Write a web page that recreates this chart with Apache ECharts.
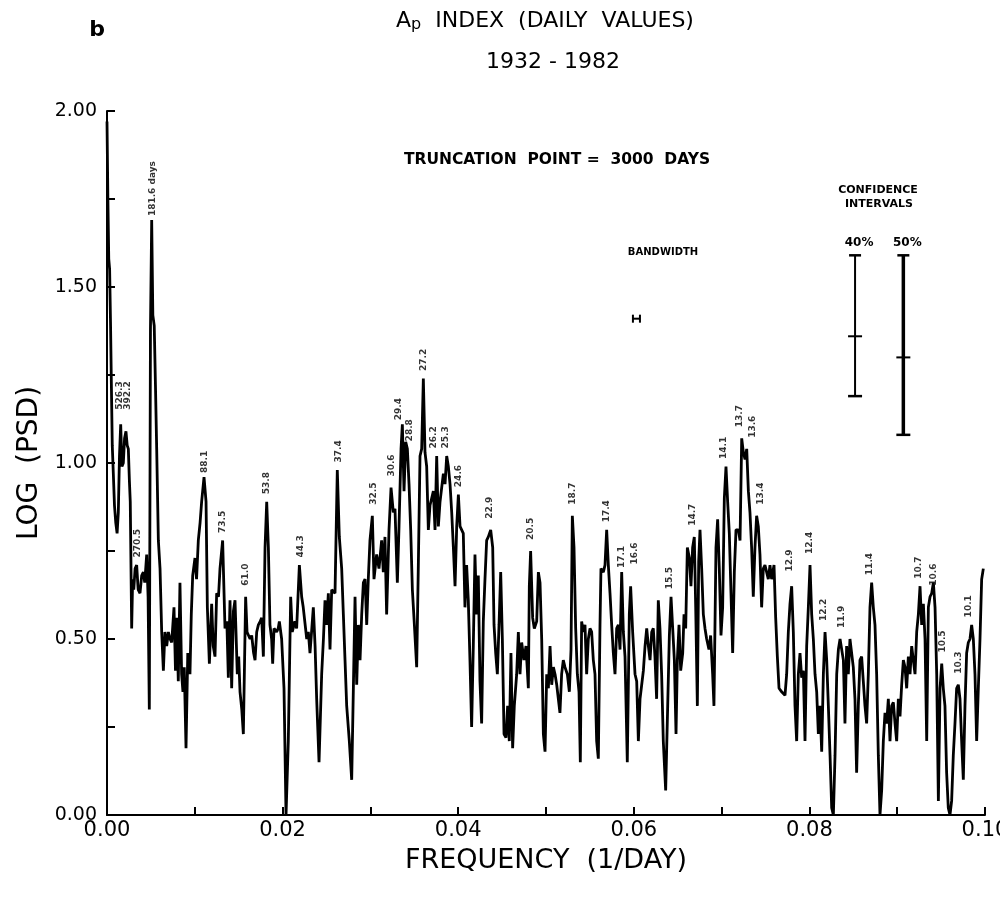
<!DOCTYPE html>
<html><head><meta charset="utf-8">
<script src="https://cdn.jsdelivr.net/npm/echarts@6.0.0/dist/echarts.min.js"></script>
<style>html,body{margin:0;padding:0;background:#fff}#c{width:1000px;height:903px}</style>
</head><body><div id="c"></div><script>
// ---- DATA ----
const freq = [
0,0.0001,0.0002,0.0003,0.0004,0.0005,0.0006,0.00072,0.00085,0.001,
0.00115,0.00129,0.00142,0.00156,0.0017,0.00186,0.002,0.00216,0.0023,0.00243,
0.00255,0.00265,0.00281,0.00292,0.00305,0.0032,0.00338,0.00355,0.00376,0.00395,
0.00414,0.0043,0.00452,0.00468,0.00482,0.00495,0.00509,0.00522,0.00538,0.00552,
0.00566,0.00585,0.00604,0.00623,0.00642,0.0066,0.0068,0.00699,0.00718,0.00737,
0.00763,0.0078,0.00795,0.00812,0.00831,0.0085,0.00865,0.0088,0.009,0.0092,
0.00945,0.0096,0.00976,0.01002,0.0102,0.0104,0.0106,0.01078,0.01105,0.01128,
0.01143,0.01166,0.01192,0.0121,0.0123,0.01249,0.0127,0.01287,0.01317,0.01344,
0.01365,0.01382,0.01401,0.0142,0.0144,0.01458,0.01484,0.015,0.01515,0.01535,
0.01553,0.01579,0.01595,0.0161,0.0163,0.01648,0.0167,0.01686,0.01705,0.01724,
0.01745,0.01762,0.01781,0.018,0.01819,0.01838,0.01856,0.01875,0.01887,0.01902,
0.01932,0.0195,0.01963,0.01989,0.02016,0.02039,0.02065,0.02092,0.0211,0.0214,
0.0216,0.02191,0.02217,0.02235,0.02255,0.02275,0.02293,0.02312,0.0233,0.0235,
0.0237,0.02388,0.02415,0.02445,0.02465,0.02483,
0.02502,0.02521,0.0254,0.02559,0.02597,0.02623,0.02646,0.02673,0.02692,0.02711,
0.0273,0.0276,0.02787,0.02806,0.02825,0.02844,0.02863,0.02882,0.02901,0.0292,
0.02939,0.02958,0.02976,0.02995,0.03022,0.03041,0.03071,0.03098,0.03128,0.03147,
0.03166,0.03185,0.03212,0.03235,0.03261,0.0328,0.03307,0.03326,0.03349,0.03364,
0.03383,0.03402,0.03421,0.0344,0.03459,0.03478,0.03501,0.03527,0.03546,0.03565,
0.03584,0.03603,0.03622,0.03641,0.0366,0.03679,0.03698,0.03717,0.03736,0.03755,
0.03774,0.03793,0.03812,0.03831,0.0385,0.03869,0.03888,0.03907,0.03926,0.03945,
0.03964,0.03983,0.04002,0.04021,0.04039,0.04058,0.04077,0.04096,0.04115,0.04134,
0.04153,0.04172,0.04191,0.0421,0.04229,0.04248,0.04267,0.04286,0.04305,0.04324,
0.04343,0.0437,0.04393,0.04408,0.04427,0.04446,0.04465,0.04484,0.04503,0.04522,
0.04544,0.04563,0.04582,0.04601,0.0462,0.04639,0.04666,0.04685,0.04704,0.04723,
0.04749,0.04772,0.04799,0.0481,0.04825,0.04848,0.04867,0.04894,0.04913,0.04932,
0.04951,0.0497,0.04989,0.05008,0.05027,0.05046,0.05065,0.05084,0.05103,0.05122,
0.05141,0.05159,0.05178,0.05197,0.05216,0.05243,0.05266,0.05285,0.053,0.05319,
0.05338,0.05357,0.05376,0.05391,0.05406,0.05425,0.05444,0.05463,0.05482,0.05501,
0.0552,0.05539,0.05558,0.05577,0.05596,0.05615,0.05626,0.05653,0.05672,0.05691,
0.0571,0.05729,0.05748,0.05767,0.05786,0.05805,0.05824,0.05843,0.05862,0.05881,
0.059,0.05926,0.05949,0.05964,0.05987,0.06014,0.06033,0.06052,0.06071,0.0609,
0.06109,0.06128,0.06147,0.06166,0.06185,0.06204,0.06222,0.06241,0.0626,0.06279,
0.06298,0.06317,0.06336,0.06363,0.06386,0.06405,0.06424,0.06443,0.06462,0.06481,
0.06496,0.06515,0.06534,0.06557,0.06572,0.06591,0.0661,0.06633,0.06651,0.0667,
0.06689,0.06705,0.06724,0.06739,0.06754,0.06773,0.06792,0.06811,0.0683,0.06856,
0.06875,0.06898,0.06913,0.06936,0.06955,0.06974,0.06993,0.07012,0.07031,0.0705,
0.07069,0.07088,0.07107,0.07126,0.07145,0.07164,0.07191,0.0721,0.07229,0.07248,
0.07267,0.07286,0.07305,0.07323,0.07342,0.07361,0.0738,0.07399,0.07418,0.07437,
0.07456,0.07475,0.07494,0.07532,0.07551,0.0757,0.07597,0.07616,0.07635,0.07654,
0.07684,0.07722,0.07741,0.0776,0.07779,0.07798,0.07817,0.07836,0.07855,0.07874,
0.07893,0.07912,0.07931,0.0795,0.07969,0.07988,0.08007,0.08026,0.08045,0.08064,
0.08083,0.08102,0.08121,0.0814,0.08159,0.08178,0.08197,0.08216,0.08235,0.08254,
0.08273,0.08292,0.08311,0.0833,0.08349,0.08368,0.08387,0.08405,0.08424,0.08443,
0.08462,0.08481,0.085,0.08519,0.08538,0.08557,0.08576,0.08595,0.08614,0.08633,
0.08652,0.08671,0.0869,0.08709,0.08728,0.08747,0.08766,0.08785,0.08804,0.08823,
0.08842,0.08861,0.0888,0.08899,0.08918,0.08937,0.08956,0.08975,0.08994,0.09013,
0.09032,0.09051,0.0907,0.09089,0.09108,0.09127,0.09146,0.09165,0.09184,0.09203,
0.09222,0.09241,0.0926,0.09279,0.09298,0.09317,0.09336,0.09355,0.09374,0.09393,
0.09412,0.09431,0.0945,0.09469,0.09488,0.09507,0.09525,0.09544,0.09563,0.09582,
0.09601,0.0962,0.09639,0.09658,0.09677,0.09696,0.09715,0.09734,0.09753,0.09772,
0.09791,0.0981,0.09829,0.09848,0.09867,0.09886,0.09905,0.09924,0.09943,0.09962,
0.09981
];
const logPsd = [
1.97,1.75,1.58,1.55,1.40,1.22,1.05,0.97,0.88,0.83,
0.80,0.86,1.02,1.11,0.99,1.00,1.07,1.09,1.05,1.04,
0.95,0.89,0.53,0.67,0.64,0.70,0.71,0.64,0.63,0.68,
0.69,0.66,0.74,0.62,0.30,1.38,1.69,1.42,1.39,1.22,
1.04,0.78,0.70,0.52,0.41,0.52,0.48,0.52,0.50,0.49,
0.59,0.41,0.56,0.38,0.66,0.40,0.35,0.42,0.19,0.46,
0.40,0.57,0.68,0.73,0.67,0.78,0.83,0.89,0.96,0.89,
0.59,0.43,0.60,0.48,0.45,0.63,0.62,0.70,0.78,0.53,
0.55,0.39,0.61,0.36,0.58,0.61,0.40,0.45,0.35,0.30,
0.23,0.62,0.52,0.52,0.50,0.51,0.46,0.44,0.52,0.54,
0.55,0.56,0.45,0.76,0.89,0.76,0.54,0.50,0.43,0.53,
0.52,0.53,0.55,0.50,0.36,0.00,0.21,0.62,0.52,0.55,
0.53,0.71,0.62,0.59,0.59,0.50,0.52,0.46,0.52,0.59,
0.48,0.33,0.15,0.40,0.50,0.61,
0.54,0.63,0.47,0.64,0.63,0.98,0.79,0.70,0.57,0.44,
0.31,0.21,0.10,0.36,0.62,0.37,0.54,0.44,0.57,0.66,
0.67,0.54,0.67,0.78,0.85,0.67,0.74,0.70,0.78,0.69,
0.79,0.57,0.81,0.93,0.86,0.87,0.66,0.82,1.04,1.11,
0.92,1.06,1.04,0.94,0.81,0.64,0.54,0.42,0.71,1.02,
1.04,1.24,1.03,0.99,0.81,0.88,0.90,0.92,0.81,1.02,
0.82,0.89,0.93,0.97,0.94,1.02,0.99,0.94,0.86,0.76,
0.65,0.82,0.91,0.82,0.82,0.80,0.59,0.71,0.61,0.44,
0.25,0.48,0.74,0.57,0.68,0.38,0.26,0.55,0.67,0.78,
0.79,0.81,0.76,0.54,0.46,0.40,0.54,0.69,0.50,0.23,
0.22,0.31,0.21,0.46,0.19,0.31,0.40,0.52,0.40,0.49,
0.44,0.48,0.36,0.65,0.75,0.56,0.53,0.55,0.69,0.66,
0.50,0.23,0.18,0.40,0.36,0.48,0.37,0.42,0.40,0.37,
0.37,0.29,0.40,0.44,0.42,0.40,0.35,0.47,0.85,0.76,
0.53,0.40,0.35,0.15,0.55,0.52,0.54,0.40,0.50,0.53,
0.52,0.44,0.40,0.21,0.16,0.54,0.70,0.69,0.71,0.81,
0.71,0.63,0.54,0.46,0.40,0.53,0.54,0.47,0.69,0.52,
0.45,0.15,0.57,0.65,0.52,0.40,0.38,0.21,0.33,0.37,
0.41,0.48,0.53,0.48,0.44,0.52,0.53,0.45,0.33,0.61,
0.53,0.40,0.21,0.07,0.31,0.51,0.62,0.53,0.44,0.23,
0.44,0.54,0.41,0.46,0.57,0.53,0.76,0.73,0.65,0.76,
0.79,0.59,0.31,0.72,0.81,0.70,0.57,0.53,0.50,0.47,
0.51,0.40,0.31,0.76,0.84,0.70,0.51,0.59,0.90,0.99,
0.89,0.80,0.63,0.46,0.69,0.81,0.81,0.78,1.07,1.03,
1.01,1.04,0.92,0.86,0.76,0.62,0.76,0.85,0.82,0.74,
0.59,0.70,0.71,0.67,0.71,0.67,0.71,0.56,0.45,0.36,
0.35,0.34,0.40,0.52,0.60,0.65,0.52,0.31,0.21,0.40,
0.46,0.39,0.41,0.21,0.48,0.59,0.71,0.57,0.50,0.40,
0.35,0.23,0.31,0.18,0.40,0.52,0.44,0.31,0.17,0.02,
0.00,0.17,0.40,0.47,0.50,0.50,0.44,0.26,0.48,0.40,
0.50,0.50,0.42,0.33,0.12,0.31,0.44,0.45,0.38,0.31,
0.26,0.40,0.59,0.66,0.59,0.54,0.40,0.17,0.00,0.07,
0.21,0.29,0.26,0.33,0.21,0.31,0.32,0.26,0.21,0.33,
0.28,0.37,0.44,0.42,0.36,0.45,0.40,0.48,0.44,0.40,
0.52,0.57,0.65,0.54,0.60,0.50,0.21,0.59,0.62,0.63,
0.66,0.59,0.40,0.04,0.36,0.43,0.36,0.31,0.12,0.02,
0.00,0.04,0.17,0.26,0.36,0.37,0.33,0.21,0.10,0.31,
0.46,0.49,0.50,0.54,0.50,0.40,0.21,0.36,0.50,0.67,
0.70
];
// period labels (days) over peaks
const peakText = ['526.3','392.2','270.5','181.6 days','88.1','73.5','61.0','53.8','44.3','37.4','32.5','30.6','29.4','28.8','27.2','26.2','25.3','24.6','22.9','20.5','18.7','17.4','17.1','16.6','15.5','14.7','14.1','13.7','13.6','13.4','12.9','12.4','12.2','11.9','11.4','10.7','10.6','10.5','10.3','10.1'];
const peakFreq = [0.00148,0.00239,0.00353,0.00518,0.01116,0.01315,0.01577,0.01822,0.02204,0.02637,0.03035,0.0324,0.03326,0.03445,0.03605,0.03719,0.03861,0.04009,0.04357,0.04823,0.05302,0.05695,0.0586,0.06008,0.06407,0.06669,0.07022,0.0721,0.07358,0.07449,0.07779,0.08007,0.08161,0.08366,0.0869,0.09243,0.09419,0.09522,0.09698,0.09818];
const peakBase = [1.15,1.15,0.73,1.70,0.97,0.80,0.65,0.91,0.73,1.00,0.88,0.96,1.12,1.06,1.26,1.04,1.04,0.93,0.84,0.78,0.88,0.83,0.70,0.71,0.64,0.82,1.01,1.10,1.07,0.88,0.69,0.74,0.55,0.53,0.68,0.67,0.65,0.46,0.40,0.56];
// confidence intervals
const ciName = ['40%','50%'];
const ciFreq = [0.0852,0.0907];
const ciLow = [1.19,1.08];
const ciMid = [1.36,1.30];
const ciHigh = [1.59,1.59];
// bandwidth marker
const bwFreq = 0.0603, bwLog = 1.41, bwHalf = 0.0004;
// axis ticks
const xTickLabels = ['0.00','0.02','0.04','0.06','0.08','0.10'];
const yTickLabels = ['0.00','0.50','1.00','1.50','2.00'];

// ---- CHART ----
const FONT = 'DejaVu Sans';
const chart = echarts.init(document.getElementById('c'), null, {renderer:'canvas'});
const curve = freq.map((f,i)=>[f, logPsd[i]]);
const ciWidths = [2, 3.5];

const option = {
  animation:false,
  backgroundColor:'#ffffff',
  grid:{left:107, right:15, top:111, bottom:88, containLabel:false, outerBoundsMode:'none'},
  xAxis:{
    type:'value', min:0, max:0.1, interval:0.01,
    axisLine:{show:true, onZero:false, lineStyle:{color:'#000', width:2}},
    axisTick:{show:true, inside:true, length:8, lineStyle:{color:'#000', width:2}},
    splitLine:{show:false},
    axisLabel:{color:'#000', fontFamily:FONT, fontSize:21, margin:5, hideOverlap:false,
      formatter:v=>{const s=v.toFixed(2); return xTickLabels.includes(s)&&Math.round(v*1000)%20===0?s:'';}},
    name:'FREQUENCY  (1/DAY)', nameLocation:'middle', nameGap:32,
    nameTextStyle:{color:'#000', fontFamily:FONT, fontSize:27}
  },
  yAxis:{
    type:'value', min:0, max:2, interval:0.25,
    axisLine:{show:true, lineStyle:{color:'#000', width:2}},
    axisTick:{show:true, inside:true, length:8, lineStyle:{color:'#000', width:2}},
    splitLine:{show:false},
    axisLabel:{color:'#000', fontFamily:FONT, fontSize:19, margin:10,
      formatter:v=>{const s=v.toFixed(2); return yTickLabels.includes(s)?s:'';}},
    name:'LOG  (PSD)', nameLocation:'middle', nameGap:60, nameRotate:90,
    nameTextStyle:{color:'#000', fontFamily:FONT, fontSize:28}
  },
  graphic:[
    {type:'text', x:97, y:30, style:{text:'b', font:'bold 22px '+FONT, fill:'#000', textAlign:'center', textVerticalAlign:'middle'}},
    {type:'text', x:545, y:21, style:{text:'{a|A}{p|p}  INDEX  (DAILY  VALUES)', font:'22px '+FONT, fill:'#000', textAlign:'center', textVerticalAlign:'middle',
      rich:{a:{fontSize:22, fontFamily:FONT}, p:{fontSize:16, fontFamily:FONT, padding:[7,0,0,0]}}}},
    {type:'text', x:553, y:62, style:{text:'1932 - 1982', font:'22px '+FONT, fill:'#000', textAlign:'center', textVerticalAlign:'middle'}},
    {type:'text', x:557, y:160, style:{text:'TRUNCATION  POINT =  3000  DAYS', font:'bold 15.5px '+FONT, fill:'#000', textAlign:'center', textVerticalAlign:'middle'}},
    {type:'text', x:663, y:252, style:{text:'BANDWIDTH', font:'bold 10px '+FONT, fill:'#000', textAlign:'center', textVerticalAlign:'middle'}},
    {type:'text', x:878, y:190, style:{text:'CONFIDENCE', font:'bold 11px '+FONT, fill:'#000', textAlign:'center', textVerticalAlign:'middle'}},
    {type:'text', x:879, y:204, style:{text:'INTERVALS', font:'bold 11px '+FONT, fill:'#000', textAlign:'center', textVerticalAlign:'middle'}}
  ],
  series:[
    {type:'line', data:curve, showSymbol:false, symbol:'none', smooth:false,
      lineStyle:{color:'#000', width:2.8}, z:3},
    {type:'scatter', data:peakFreq.map((f,i)=>[f, peakBase[i], peakText[i]]),
      symbolSize:1, itemStyle:{color:'rgba(0,0,0,0)'}, z:4,
      label:{show:true, formatter:p=>p.data[2], position:'top', distance:0, rotate:90,
        align:'left', verticalAlign:'middle', color:'#000', fontFamily:FONT, fontSize:9, fontWeight:'bold'}},
    {type:'custom', z:4,
      data:ciFreq.map((f,i)=>[f, ciLow[i], ciMid[i], ciHigh[i], i]),
      renderItem:(params, api)=>{
        const f=api.value(0), i=api.value(4);
        const top=api.coord([f, api.value(3)]), mid=api.coord([f, api.value(2)]), lo=api.coord([f, api.value(1)]);
        const w=ciWidths[i], st={stroke:'#000', lineWidth:w};
        return {type:'group', children:[
          {type:'line', shape:{x1:top[0], y1:top[1], x2:lo[0], y2:lo[1]}, style:st},
          {type:'line', shape:{x1:top[0]-6, y1:top[1], x2:top[0]+6, y2:top[1]}, style:{stroke:'#000', lineWidth:2.5}},
          {type:'line', shape:{x1:mid[0]-7, y1:mid[1], x2:mid[0]+7, y2:mid[1]}, style:{stroke:'#000', lineWidth:2}},
          {type:'line', shape:{x1:lo[0]-7, y1:lo[1], x2:lo[0]+7, y2:lo[1]}, style:{stroke:'#000', lineWidth:2.5}},
          {type:'text', x:top[0]+4, y:top[1]-12, style:{text:ciName[i], font:'bold 12px '+FONT, fill:'#000', textAlign:'center', textVerticalAlign:'middle'}}
        ]};
      }},
    {type:'custom', z:4, data:[[bwFreq, bwLog]],
      renderItem:(params, api)=>{
        const a=api.coord([api.value(0)-bwHalf, api.value(1)]), b=api.coord([api.value(0)+bwHalf, api.value(1)]);
        const st={stroke:'#000', lineWidth:2};
        return {type:'group', children:[
          {type:'line', shape:{x1:a[0], y1:a[1], x2:b[0], y2:b[1]}, style:st},
          {type:'line', shape:{x1:a[0], y1:a[1]-4, x2:a[0], y2:a[1]+4}, style:st},
          {type:'line', shape:{x1:b[0], y1:b[1]-4, x2:b[0], y2:b[1]+4}, style:st}
        ]};
      }}
  ]
};
chart.setOption(option);
</script></body></html>
